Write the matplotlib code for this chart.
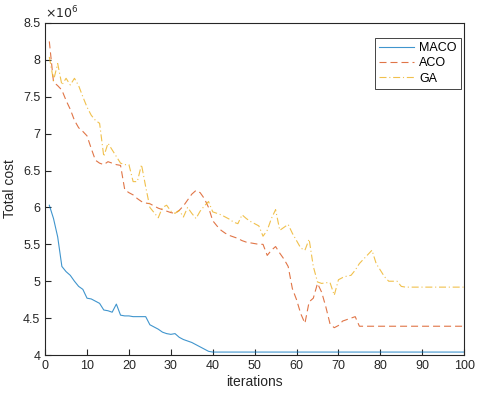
import matplotlib
matplotlib.use('Agg')
import matplotlib.pyplot as plt
from matplotlib.ticker import FuncFormatter
import numpy as np

plt.rcParams['font.family'] = ['Liberation Sans', 'DejaVu Sans']

iters = list(range(1, 101))

maco = [6.03, 5.85, 5.6, 5.2, 5.13, 5.08, 5.0, 4.93, 4.89, 4.77,
        4.76, 4.73, 4.70, 4.61, 4.60, 4.58, 4.69, 4.54, 4.53, 4.53,
        4.52, 4.52, 4.52, 4.52, 4.41, 4.38, 4.35, 4.31, 4.29, 4.28,
        4.29, 4.24, 4.21, 4.19, 4.17, 4.14, 4.11, 4.08, 4.05, 4.04] + [4.04] * 60

aco = [8.25, 7.7, 7.65, 7.59, 7.45, 7.33, 7.18, 7.08, 7.03, 6.97,
       6.8, 6.64, 6.6, 6.58, 6.62, 6.6, 6.58, 6.57, 6.24, 6.2,
       6.17, 6.12, 6.08, 6.06, 6.05, 6.02, 5.99, 5.97, 5.95, 5.93,
       5.92, 5.96, 6.02, 6.1, 6.18, 6.23, 6.2, 6.12, 6.0, 5.82,
       5.75, 5.69, 5.65, 5.62, 5.6, 5.58, 5.55, 5.53, 5.52, 5.51,
       5.5, 5.5, 5.35, 5.42, 5.47, 5.38, 5.3, 5.2, 4.9, 4.75,
       4.56, 4.43, 4.72, 4.77, 4.97, 4.85, 4.65, 4.42, 4.37, 4.4,
       4.46, 4.48, 4.5, 4.52, 4.39] + [4.39] * 25

ga = [8.04, 7.72, 7.95, 7.66, 7.75, 7.66, 7.75, 7.65, 7.5, 7.36,
      7.25, 7.18, 7.14, 6.69, 6.87, 6.78, 6.69, 6.6, 6.58, 6.58,
      6.35, 6.35, 6.58, 6.28, 6.0, 5.93, 5.86, 6.0, 6.03, 5.95,
      5.92, 5.96, 5.87, 6.0, 5.92, 5.85, 5.95, 6.02, 6.08, 5.94,
      5.92, 5.9, 5.87, 5.84, 5.8, 5.78, 5.9, 5.85, 5.81, 5.78,
      5.75, 5.61, 5.69, 5.85, 5.97, 5.69, 5.73, 5.77, 5.65, 5.55,
      5.45, 5.42, 5.57, 5.2, 4.99, 4.97, 4.98, 4.98, 4.81, 5.02,
      5.05, 5.07, 5.08, 5.15, 5.24, 5.3, 5.36, 5.42, 5.24, 5.15,
      5.06, 5.0, 5.0, 5.0, 4.93] + [4.92] * 15

yticks = [4, 4.5, 5, 5.5, 6, 6.5, 7, 7.5, 8, 8.5]
xticks = list(range(0, 101, 10))

dark = (0.15, 0.15, 0.15)

fig = plt.figure(figsize=(4.8, 3.96), dpi=100)
ax = fig.add_axes([0.094, 0.1035, 0.873, 0.8385])

ax.plot(iters, maco, '-', color=(0, 0.447, 0.741), lw=0.8, alpha=0.75, label='MACO')
ax.plot(iters, aco, '--', color=(0.85, 0.325, 0.098), lw=0.8, alpha=0.8,
        dashes=(6.3, 3.6), label='ACO')
ax.plot(iters, ga, '-.', color=(0.929, 0.694, 0.125), lw=0.8, alpha=0.8,
        dashes=(6.3, 2.5, 1.0, 2.5), label='GA')

ax.set_xlim(0, 100)
ax.set_ylim(4, 8.5)
ax.set_xticks(xticks)
ax.set_yticks(yticks)
ax.yaxis.set_major_formatter(FuncFormatter(lambda v, p: '%g' % v))
ax.tick_params(direction='in', labelsize=9, colors=dark, length=4, width=0.8)
for s in ax.spines.values():
    s.set_color(dark)
    s.set_linewidth(0.8)

ax.text(0.0, 1.005, r'$\times10^{6}$', transform=ax.transAxes, fontsize=9,
        color=dark, ha='left', va='bottom')

ax.set_xlabel('iterations', fontsize=10, color=dark, labelpad=2)
ax.set_ylabel('Total cost', fontsize=10, color=dark, labelpad=4)

leg = ax.legend(loc='upper right', bbox_to_anchor=(0.993, 0.955), borderaxespad=0,
                fontsize=9, frameon=True, fancybox=False, edgecolor=dark, framealpha=1,
                handlelength=2.8, borderpad=0.35, labelspacing=0.25, handletextpad=0.4)
leg.get_frame().set_linewidth(0.6)

fig.savefig('out.png', dpi=100)
